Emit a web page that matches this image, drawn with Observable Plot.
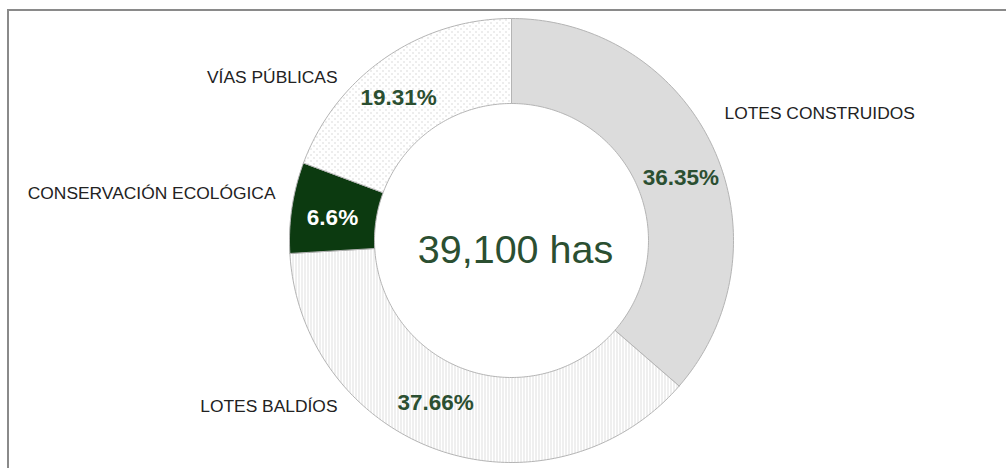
<!DOCTYPE html>
<html><head><meta charset="utf-8">
<script src="https://cdn.jsdelivr.net/npm/d3@7"></script>
<script src="https://cdn.jsdelivr.net/npm/@observablehq/plot@0.6"></script>
<style>
html,body{margin:0;padding:0;background:#fff;}
#wrap{position:relative;width:1006px;height:468px;overflow:hidden;}
#frame{position:absolute;left:7px;top:9px;right:-10px;bottom:-10px;border-top:2px solid #8a8a8a;border-left:2px solid #8a8a8a;pointer-events:none;}
</style></head><body>
<div id="wrap"><div id="chart"></div><div id="frame"></div></div>
<script>
// ---- data ----
const categories = ["LOTES CONSTRUIDOS", "LOTES BALDÍOS", "CONSERVACIÓN ECOLÓGICA", "VÍAS PÚBLICAS"];
const shares = [36.35, 37.66, 6.6, 19.31];
const shareLabels = ["36.35%", "37.66%", "6.6%", "19.31%"];
const totalHas = 39100;

// ---- layout / style (not data) ----
const R_OUT = 222, R_IN = 137, CX = 511, CY = 240;
const sliceFills = ["#dcdcdc", "url(#pat-lines)", "#0c3a10", "url(#pat-dots)"];
// nudges of the percentage labels from the slice centroid (px: right, down)
const pctNudge = [[6, 12], [-18, -8], [-1.5, 3.5], [-10.5, 4.5]];
// category annotation anchors (page px) and text anchor side
const catAt = [[724, 113, "start"], [337, 406, "end"], [275, 193, "end"], [337, 77, "end"]];

const rows = categories.map((name, i) => ({name, share: shares[i], label: shareLabels[i], i}));
const pie = d3.pie().sort(null).value(d => d.share).startAngle(0).endAngle(2 * Math.PI)(rows);

const ring = [];
pie.forEach(p => {
  const a0 = p.startAngle, a1 = p.endAngle;
  const n = Math.max(2, Math.ceil((a1 - a0) * 180 / Math.PI));
  const name = p.data.name;
  for (let k = 0; k <= n; k++) { const a = a0 + (a1 - a0) * k / n; ring.push({name, x: R_OUT * Math.sin(a), y: R_OUT * Math.cos(a)}); }
  for (let k = n; k >= 0; k--) { const a = a0 + (a1 - a0) * k / n; ring.push({name, x: R_IN * Math.sin(a), y: R_IN * Math.cos(a)}); }
  ring.push({name, x: R_OUT * Math.sin(a0), y: R_OUT * Math.cos(a0)});
});

const rm = (R_OUT + R_IN) / 2;
const pct = pie.map((p, i) => {
  const a = (p.startAngle + p.endAngle) / 2;
  return {name: p.data.name, label: p.data.label,
    x: rm * Math.sin(a) + pctNudge[i][0], y: rm * Math.cos(a) - pctNudge[i][1]};
});
const cats = categories.map((name, i) => ({name, x: catAt[i][0] - CX, y: CY - catAt[i][1], anchor: catAt[i][2]}));

const font = "'Liberation Sans', Arial, sans-serif";
const pctStyle = {x: "x", y: "y", text: "label", fontSize: 22.5, fontWeight: "bold", letterSpacing: "-0.9px"};
const svg = Plot.plot({
  width: 1006, height: 468, margin: 0,
  x: {domain: [-CX, 1006 - CX], axis: null},
  y: {domain: [CY - 468, CY], axis: null},
  color: {domain: categories, range: sliceFills},
  style: {background: "transparent", fontFamily: font},
  marks: [
    Plot.line(ring, {x: "x", y: "y", z: "name", fill: "name", stroke: "#b4b4b4", strokeWidth: 1, curve: "linear"}),
    Plot.text(pct, {...pctStyle, filter: d => d.name !== "CONSERVACIÓN ECOLÓGICA", fill: "#2b4f31"}),
    Plot.text(pct, {...pctStyle, filter: d => d.name === "CONSERVACIÓN ECOLÓGICA", fill: "#ffffff"}),
    Plot.text(cats, {filter: d => d.anchor === "start", x: "x", y: "y", text: "name", textAnchor: "start", fill: "#222", fontSize: 17.4}),
    Plot.text(cats, {filter: d => d.anchor === "end", x: "x", y: "y", text: "name", textAnchor: "end", fill: "#222", fontSize: 17.4}),
    Plot.text([totalHas], {x: () => 0, y: () => 0, text: d => d3.format(",")(d) + " has", dx: 4, dy: 10, fill: "#2b4f31", fontSize: 39.5})
  ]
});

const defs = d3.select(svg).insert("defs", ":first-child");
const pd = defs.append("pattern").attr("id", "pat-dots").attr("patternUnits", "userSpaceOnUse").attr("width", 6).attr("height", 6);
pd.append("rect").attr("width", 6).attr("height", 6).attr("fill", "#fff");
pd.append("rect").attr("x", 1).attr("y", 1).attr("width", 1).attr("height", 1).attr("fill", "#b8b8b8");
pd.append("rect").attr("x", 4).attr("y", 4).attr("width", 1).attr("height", 1).attr("fill", "#b8b8b8");
const pl = defs.append("pattern").attr("id", "pat-lines").attr("patternUnits", "userSpaceOnUse").attr("width", 3).attr("height", 10);
pl.append("rect").attr("width", 3).attr("height", 10).attr("fill", "#fff");
pl.append("rect").attr("x", 1).attr("y", 0).attr("width", 1).attr("height", 10).attr("fill", "#dedede");

document.getElementById("chart").appendChild(svg);
</script>
</body></html>
